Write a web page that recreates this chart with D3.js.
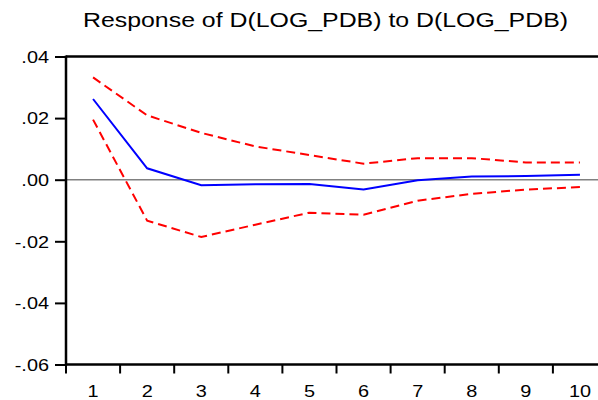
<!DOCTYPE html>
<html><head><meta charset="utf-8">
<script src="https://cdn.jsdelivr.net/npm/d3@7"></script>
<style>body{margin:0;background:#fff}svg{display:block}</style>
</head><body><svg id="c" width="598" height="400"></svg>
<script>
const periods = [1,2,3,4,5,6,7,8,9,10];
const response = [0.0262,0.0037,-0.0018,-0.0015,-0.0014,-0.0032,-0.0002,0.0010,0.0012,0.0016];
const upper = [0.0332,0.0209,0.0152,0.0108,0.0080,0.0052,0.0070,0.0070,0.0056,0.0056];
const lower = [0.0195,-0.0133,-0.0186,-0.0146,-0.0107,-0.0114,-0.0068,-0.0046,-0.0032,-0.0024];
const yTicks = [0.04,0.02,0.00,-0.02,-0.04,-0.06];
const yTickLabels = [".04",".02",".00","-.02","-.04","-.06"];
const title = "Response of D(LOG_PDB) to D(LOG_PDB)";

const svg = d3.select("#c");
const L = 66, T = 56.5, B = 364.5, bw = 54.1;
const x = d3.scaleBand().domain(periods).range([L, L + bw*periods.length]).paddingInner(0).paddingOuter(0);
const y = d3.scaleLinear().domain([-0.06, 0.04]).range([B, T]);
const font = "Arial, 'Liberation Sans', sans-serif";
const sx = 1.22, fs = 16.3;

// title
svg.append("text").attr("x", 83).attr("y", 27).attr("textLength", 485).attr("lengthAdjust","spacingAndGlyphs")
  .attr("font-family", font).attr("font-size", 20.5).attr("fill","#000").text(title);

// zero line
svg.append("line").attr("x1", L).attr("x2", 598).attr("y1", y(0)).attr("y2", y(0))
  .attr("stroke", "#808080").attr("stroke-width", 1.5);

// y axis
const yAxis = d3.axisLeft(y).tickValues(yTicks).tickFormat((d,i)=>yTickLabels[i]).tickSize(11).tickPadding(0);
const gy = svg.append("g").attr("transform", `translate(${L},0)`).call(yAxis);
gy.select(".domain").remove();
gy.selectAll(".tick line").attr("stroke","#000").attr("stroke-width",2);
gy.selectAll(".tick text").attr("x", null).attr("font-family", font).attr("font-size", fs).attr("fill","#000").attr("dy","0.36em")
  .attr("transform", `translate(-17,0) scale(${sx},1)`);

// x axis
const xAxis = d3.axisBottom(x).tickSize(0).tickPadding(0);
const gx = svg.append("g").attr("transform", `translate(0,${B})`).call(xAxis);
gx.select(".domain").remove();
gx.selectAll(".tick text").attr("y", null).attr("dy", null).attr("font-family", font).attr("font-size", fs).attr("fill","#000")
  .attr("transform", `translate(0,32) scale(${sx},1)`);
periods.forEach((p,i)=>{
  svg.append("line").attr("x1", x(p)).attr("x2", x(p)).attr("y1", B).attr("y2", B+9)
    .attr("stroke","#000").attr("stroke-width",2);
});

// frame
svg.append("line").attr("x1", L).attr("x2", 598).attr("y1", T).attr("y2", T).attr("stroke","#000").attr("stroke-width",2.5);
svg.append("line").attr("x1", L).attr("x2", 598).attr("y1", B).attr("y2", B).attr("stroke","#000").attr("stroke-width",2.5);
svg.append("line").attr("x1", L).attr("x2", L).attr("y1", T-1).attr("y2", B+1).attr("stroke","#000").attr("stroke-width",2.5);

const line = d3.line().x((d,i)=>x(periods[i]) + x.bandwidth()/2).y(d=>y(d));
svg.append("path").datum(upper).attr("d", line).attr("fill","none").attr("stroke","#ff0000").attr("stroke-width",2).attr("stroke-dasharray","9,5");
svg.append("path").datum(lower).attr("d", line).attr("fill","none").attr("stroke","#ff0000").attr("stroke-width",2).attr("stroke-dasharray","9,5");
svg.append("path").datum(response).attr("d", line).attr("fill","none").attr("stroke","#0000ff").attr("stroke-width",2);
</script></body></html>
